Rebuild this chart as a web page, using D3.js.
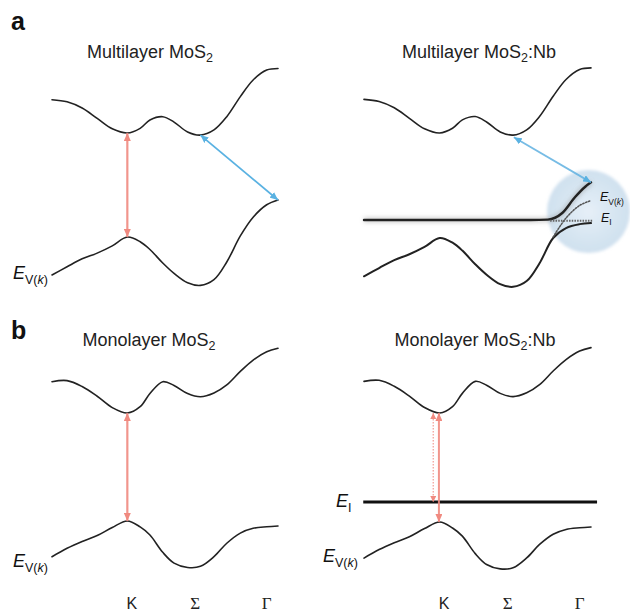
<!DOCTYPE html>
<html><head><meta charset="utf-8">
<script src="https://cdn.jsdelivr.net/npm/d3@7"></script>
<style>
html,body{margin:0;padding:0;background:#fff;}
svg{display:block;font-family:"Liberation Sans",Arial,sans-serif;}
</style></head>
<body>
<svg id="c" width="630" height="612"></svg>
<script>
// ---------------- DATA ----------------
// momentum grid (K = 0, Σ ≈ 1, Γ = 2) and band energies (valence max at K = 0, gap = 1)
const kGrid = [-1,-0.8,-0.6,-0.4,-0.2,0,0.17,0.3,0.47,0.62,0.8,0.97,1.15,1.32,1.5,1.67,1.85,2.0];
const multiCB = [1.32,1.30,1.24,1.14,1.04,1.00,1.045,1.125,1.157,1.105,1.01,0.98,1.03,1.157,1.35,1.51,1.605,1.62];
const multiVB = [-0.365,-0.286,-0.21,-0.155,-0.085,0,-0.045,-0.12,-0.25,-0.35,-0.44,-0.465,-0.41,-0.24,0.01,0.19,0.31,0.356];
const multiVBdoped = [-0.365,-0.286,-0.21,-0.155,-0.085,0,-0.045,-0.12,-0.25,-0.35,-0.44,-0.465,-0.41,-0.24,0.0,0.095,0.132,0.142];
const monoCB = [1.29,1.30,1.245,1.155,1.05,1.0,1.058,1.18,1.29,1.255,1.18,1.15,1.185,1.26,1.385,1.49,1.568,1.60];
const monoVB = [-0.331,-0.253,-0.19,-0.135,-0.06,0,-0.055,-0.13,-0.29,-0.39,-0.43,-0.42,-0.33,-0.206,-0.112,-0.068,-0.053,-0.046];
// impurity level merging with valence band (multilayer :Nb)
const impK = [-1,1.2,1.43,1.62,1.79,1.92,2.0];
const impE = [0.171,0.171,0.175,0.238,0.39,0.486,0.53];
const eImpMulti = 0.165;
const eImpMono = 0.183;
// tick labels
const kTickLabels = ["K","\u03A3","\u0393"];
const kTickPos = [0.06,0.9,1.85];

// ---------------- LAYOUT ----------------
const svg = d3.select("#c");
const defs = svg.append("defs");
const panels = {
  aL:{x:[52,278], y:[237,133]},
  aR:{x:[364,591], y:[238,133]},
  bL:{x:[52,278], y:[521,413]},
  bR:{x:[364,591], y:[522,413]}
};
for (const p of Object.values(panels)) {
  p.sx = d3.scaleLinear().domain([-1,2]).range(p.x);
  p.sy = d3.scaleLinear().domain([0,1]).range(p.y);
}
const RED = "#f08a80", BLUE = "#5ab2e2";

function marker(id, color, len, wid){
  defs.append("marker").attr("id",id).attr("viewBox",`0 0 ${len} ${wid}`)
    .attr("refX",len).attr("refY",wid/2).attr("markerWidth",len).attr("markerHeight",wid)
    .attr("markerUnits","userSpaceOnUse").attr("orient","auto-start-reverse")
    .append("path").attr("d",`M0,0L${len},${wid/2}L0,${wid}Z`).attr("fill",color);
}
marker("mRed",RED,8,7);
marker("mRedS",RED,6,6);
marker("mBlue",BLUE,8,7);
marker("mBlueB","#4aa6dc",7,8);

const glow = defs.append("filter").attr("id","glow").attr("x","-10%").attr("y","-200%").attr("width","120%").attr("height","500%");
glow.append("feGaussianBlur").attr("stdDeviation",2);
const soft = defs.append("filter").attr("id","soft");
soft.append("feGaussianBlur").attr("stdDeviation",0.6);
const blurC = defs.append("filter").attr("id","blurC").attr("x","-30%").attr("y","-30%").attr("width","160%").attr("height","160%");
blurC.append("feGaussianBlur").attr("stdDeviation",1.5);
const rg = defs.append("radialGradient").attr("id","rg");
rg.append("stop").attr("offset","0%").attr("stop-color","#e6eff8");
rg.append("stop").attr("offset","80%").attr("stop-color","#d3e3f0");
rg.append("stop").attr("offset","100%").attr("stop-color","#d0e1ef");

function bandLine(p, ks, es, curve){
  return d3.line().x((d,i)=>p.sx(ks[i])).y((d,i)=>p.sy(es[i])).curve(curve||d3.curveCatmullRom.alpha(0.5))(es);
}
function drawBand(p, ks, es, w, curve){
  return svg.append("path").attr("d",bandLine(p,ks,es,curve)).attr("fill","none")
    .attr("stroke","#222").attr("stroke-width",w||1.6).attr("stroke-linecap","round");
}
function arrow(p, k1, e1, k2, e2, color, mk, w, dash){
  const l = svg.append("line").attr("x1",p.sx(k1)).attr("y1",p.sy(e1)).attr("x2",p.sx(k2)).attr("y2",p.sy(e2))
    .attr("stroke",color).attr("stroke-width",w||2)
    .attr("marker-start",`url(#${mk})`).attr("marker-end",`url(#${mk})`);
  if (dash) l.attr("stroke-dasharray",dash);
  return l;
}
function evLabel(x, y, big, sub){
  const t = svg.append("text").attr("x",x).attr("y",y).attr("fill","#111");
  t.append("tspan").attr("font-style","italic").attr("font-size",big).text("E");
  t.append("tspan").attr("font-size",sub).attr("dy",big*0.28).text("V(");
  t.append("tspan").attr("font-size",sub).attr("font-style","italic").text("k");
  t.append("tspan").attr("font-size",sub).text(")");
  return t;
}
function eiLabel(x, y, big, sub){
  const t = svg.append("text").attr("x",x).attr("y",y).attr("fill","#111");
  t.append("tspan").attr("font-style","italic").attr("font-size",big).text("E");
  t.append("tspan").attr("font-size",sub).attr("dy",big*0.25).text("I");
  return t;
}
function title(cx, y, main, suffix){
  const t = svg.append("text").attr("x",cx).attr("y",y).attr("text-anchor","middle").attr("font-size",18).attr("fill","#222");
  t.append("tspan").text(main);
  t.append("tspan").attr("font-size",12.5).attr("dy",4).text("2");
  if (suffix) t.append("tspan").attr("dy",-4).text(suffix);
}

svg.append("text").attr("x",11).attr("y",30).attr("font-size",25).attr("font-weight","bold").attr("fill","#111").text("a");
svg.append("text").attr("x",11).attr("y",339).attr("font-size",25).attr("font-weight","bold").attr("fill","#111").text("b");

title(150,58,"Multilayer MoS","");
title(479,58,"Multilayer MoS",":Nb");
title(149,346,"Monolayer MoS","");
title(475,346,"Monolayer MoS",":Nb");

// ---- a left ----
{
  const p = panels.aL;
  drawBand(p,kGrid,multiCB);
  drawBand(p,kGrid,multiVB);
  arrow(p,0,1,0,0,RED,"mRed",2.2).attr("stroke-opacity",0.9);
  arrow(p,0.97,0.98,2,multiVB[multiVB.length-1],BLUE,"mBlue",1.8);
  evLabel(13,279,18,12.5);
}
// ---- a right ----
{
  const p = panels.aR;
  svg.append("circle").attr("cx",p.sx(1.967)).attr("cy",p.sy(0.252)).attr("r",41.5)
    .attr("fill","url(#rg)").attr("filter","url(#blurC)");
  drawBand(p,kGrid,multiCB);
  svg.append("path").attr("d",bandLine(p,impK,impE,d3.curveMonotoneX)).attr("fill","none").attr("stroke","#888")
    .attr("stroke-width",5).attr("stroke-opacity",0.4).attr("filter","url(#glow)");
  drawBand(p,impK,impE,2.4,d3.curveMonotoneX);
  drawBand(p,kGrid,multiVBdoped,2.0);
  drawBand(p,kGrid.slice(14),multiVB.slice(14),1.5).attr("stroke","#555").attr("stroke-dasharray","1.5,1.5");
  svg.append("line").attr("x1",p.sx(1.46)).attr("x2",p.sx(2.03)).attr("y1",p.sy(eImpMulti)).attr("y2",p.sy(eImpMulti))
    .attr("stroke","#666").attr("stroke-width",2).attr("stroke-dasharray","1.5,1.2");
  arrow(p,0,1,0,0,RED,"mRed",2).attr("stroke-opacity",0.55).attr("filter","url(#soft)");
  arrow(p,0.98,0.96,2.0,0.53,"#5fb0e0","mBlue",1.8).attr("stroke-opacity",0.85).attr("filter","url(#soft)");
  svg.append("line").attr("x1",p.sx(2.04)).attr("x2",p.sx(2.04)).attr("y1",p.sy(0.36)).attr("y2",p.sy(0.52))
    .attr("stroke","#4aa6dc").attr("stroke-width",3).attr("marker-end","url(#mBlueB)").attr("filter","url(#soft)");
  evLabel(600,201,12.5,8.5);
  eiLabel(601,222,12.5,8.5);
}
// ---- b left ----
{
  const p = panels.bL;
  drawBand(p,kGrid,monoCB);
  drawBand(p,kGrid,monoVB);
  arrow(p,0,1,0,0,RED,"mRed",2.2).attr("stroke-opacity",0.9);
  evLabel(13,567,18,12.5);
}
// ---- b right ----
{
  const p = panels.bR;
  drawBand(p,kGrid,monoCB);
  drawBand(p,kGrid,monoVB);
  svg.append("line").attr("x1",p.sx(-1.01)).attr("x2",p.sx(2.08)).attr("y1",p.sy(eImpMono)).attr("y2",p.sy(eImpMono))
    .attr("stroke","#666").attr("stroke-width",6).attr("stroke-opacity",0.4).attr("filter","url(#glow)");
  svg.append("line").attr("x1",p.sx(-1.01)).attr("x2",p.sx(2.08)).attr("y1",p.sy(eImpMono)).attr("y2",p.sy(eImpMono))
    .attr("stroke","#111").attr("stroke-width",3);
  arrow(p,-0.01,1,-0.01,0,RED,"mRed",2).attr("stroke-opacity",0.9);
  arrow(p,-0.085,1,-0.085,eImpMono,RED,"mRedS",1.2,"1.5,1.5").attr("stroke-opacity",0.85);
  evLabel(323,562,18,12.5);
  eiLabel(336,507,18,12.5);
}
for (const key of ["bL","bR"]) {
  const p = panels[key];
  svg.selectAll(null).data(kTickLabels).enter().append("text")
    .attr("x",(d,i)=>p.sx(kTickPos[i])).attr("y",609).attr("text-anchor","middle")
    .attr("font-size",(d,i)=>i===0?16:17)
    .attr("font-family",(d,i)=>i===0?"Liberation Sans, Arial, sans-serif":"Liberation Serif, Times New Roman, serif")
    .attr("fill","#222").text(d=>d);
}
</script>
</body></html>
